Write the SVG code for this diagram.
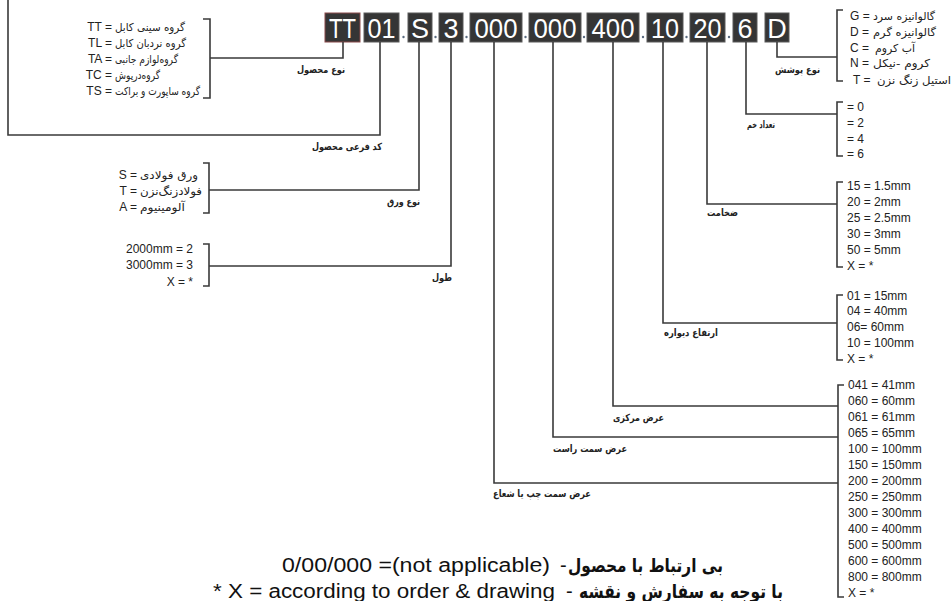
<svg xmlns="http://www.w3.org/2000/svg" width="951" height="601" viewBox="0 0 951 601">
<style>
.box{fill:#353535;stroke:#5a5a5a;stroke-width:1}
.code{font-family:"Liberation Sans",Arial,sans-serif;font-size:27px;fill:#fff;text-anchor:middle}
.dot{fill:#5b6b80}
.ln{fill:none;stroke:#3a3a3a;stroke-width:1.6}
.en{font-family:"Liberation Sans",Arial,sans-serif;font-size:12px;fill:#222}
.fa{font-family:"DejaVu Sans",sans-serif;font-size:11px;fill:#222}
.lbl{font-family:"DejaVu Sans",sans-serif;font-size:10px;font-weight:bold;fill:#222}
.big{font-family:"Liberation Sans",Arial,sans-serif;font-size:20px;fill:#111}
.bigfa{font-family:"DejaVu Sans",sans-serif;font-size:19px;font-weight:bold;fill:#111}
</style>
<rect width="951" height="601" fill="#fff"/>

<g id="code">
<rect class="box" x="325" y="13" width="35" height="29" style="stroke:#8a4a4a"/><text class="code" x="342.5" y="38" textLength="27" lengthAdjust="spacingAndGlyphs">TT</text>
<rect class="box" x="364" y="13" width="35" height="29"/><text class="code" x="381.5" y="38" textLength="28" lengthAdjust="spacingAndGlyphs">01</text>
<rect class="box" x="408" y="13" width="24" height="29"/><text class="code" x="420" y="38">S</text>
<rect class="box" x="439" y="13" width="24" height="29"/><text class="code" x="451" y="38">3</text>
<rect class="box" x="470" y="13" width="52" height="29"/><text class="code" x="496" y="38" textLength="43" lengthAdjust="spacingAndGlyphs">000</text>
<rect class="box" x="529" y="13" width="52" height="29"/><text class="code" x="555" y="38" textLength="43" lengthAdjust="spacingAndGlyphs">000</text>
<rect class="box" x="587" y="13" width="52" height="29"/><text class="code" x="613" y="38" textLength="43" lengthAdjust="spacingAndGlyphs">400</text>
<rect class="box" x="647" y="13" width="36" height="29"/><text class="code" x="665" y="38" textLength="28" lengthAdjust="spacingAndGlyphs">10</text>
<rect class="box" x="690" y="13" width="35" height="29"/><text class="code" x="707.5" y="38" textLength="28" lengthAdjust="spacingAndGlyphs">20</text>
<rect class="box" x="733" y="13" width="24" height="29"/><text class="code" x="745" y="38">6</text>
<rect class="box" x="765" y="13" width="24" height="29"/><text class="code" x="777" y="38">D</text>
<circle class="dot" cx="403.5" cy="37" r="1.2"/>
<circle class="dot" cx="435.5" cy="37" r="1.2"/>
<circle class="dot" cx="466.5" cy="37" r="1.2"/>
<circle class="dot" cx="525.5" cy="37" r="1.2"/>
<circle class="dot" cx="584" cy="37" r="1.2"/>
<circle class="dot" cx="643" cy="37" r="1.2"/>
<circle class="dot" cx="686.5" cy="37" r="1.2"/>
<circle class="dot" cx="729" cy="37" r="1.2"/>
</g>

<g id="connectors">
<path class="ln" d="M343,42 V58 H210"/>
<path class="ln" d="M203,19 H210 V98 H203"/>
<path class="ln" d="M380,42 V135 H8 V0"/>
<path class="ln" d="M419,42 V190 H209"/>
<path class="ln" d="M203,163 H209 V213 H203"/>
<path class="ln" d="M451,42 V266 H209"/>
<path class="ln" d="M203,244 H209 V286 H203"/>
<path class="ln" d="M494,42 V483 H838"/>
<path class="ln" d="M553,42 V437 H838"/>
<path class="ln" d="M613,42 V406 H838"/>
<path class="ln" d="M844,385 H838 V597 H844"/>
<path class="ln" d="M663,42 V323 H837"/>
<path class="ln" d="M843,295 H837 V360 H843"/>
<path class="ln" d="M707,42 V204 H837"/>
<path class="ln" d="M843,182 H837 V267 H843"/>
<path class="ln" d="M746,42 V114 H837"/>
<path class="ln" d="M843,102 H837 V156 H843"/>
<path class="ln" d="M777,42 V57 H837"/>
<path class="ln" d="M843,10 H837 V81 H843"/>
</g>

<g id="product-type">
<text class="en" x="112" y="31" text-anchor="end">TT =</text>
<text class="fa" x="115" y="31" textLength="70" lengthAdjust="spacingAndGlyphs">گروه سینی کابل</text>
<text class="en" x="112" y="47" text-anchor="end">TL =</text>
<text class="fa" x="115" y="47" textLength="71" lengthAdjust="spacingAndGlyphs">گروه نردبان کابل</text>
<text class="en" x="112" y="63" text-anchor="end">TA =</text>
<text class="fa" x="115" y="63" textLength="63" lengthAdjust="spacingAndGlyphs">گروه‌لوازم جانبی</text>
<text class="en" x="112" y="79" text-anchor="end">TC =</text>
<text class="fa" x="115" y="79" textLength="45" lengthAdjust="spacingAndGlyphs">گروه‌درپوش</text>
<text class="en" x="112" y="95" text-anchor="end">TS =</text>
<text class="fa" x="115" y="95" textLength="85" lengthAdjust="spacingAndGlyphs">گروه ساپورت و براکت</text>
<text class="lbl" x="297" y="73" textLength="48" lengthAdjust="spacingAndGlyphs">نوع محصول</text>
</g>

<g id="sub-code">
<text class="lbl" x="312" y="150" textLength="70" lengthAdjust="spacingAndGlyphs">کد فرعی محصول</text>
</g>

<g id="sheet-type">
<text class="en" x="137" y="179" text-anchor="end">S =</text>
<text class="fa" x="140" y="179" textLength="58" lengthAdjust="spacingAndGlyphs">ورق فولادی</text>
<text class="en" x="137" y="195" text-anchor="end">T =</text>
<text class="fa" x="140" y="195" textLength="62" lengthAdjust="spacingAndGlyphs">فولادزنگ‌نزن</text>
<text class="en" x="137" y="211" text-anchor="end">A =</text>
<text class="fa" x="140" y="211" textLength="45" lengthAdjust="spacingAndGlyphs">آلومینیوم</text>
<text class="lbl" x="387" y="205" textLength="33" lengthAdjust="spacingAndGlyphs">نوع ورق</text>
</g>

<g id="length">
<text class="en" x="193" y="253" text-anchor="end">2000mm = 2</text>
<text class="en" x="193" y="269" text-anchor="end">3000mm = 3</text>
<text class="en" x="193" y="286" text-anchor="end">X = *</text>
<text class="lbl" x="432" y="281" textLength="20" lengthAdjust="spacingAndGlyphs">طول</text>
</g>

<g id="widths">
<text class="lbl" x="493" y="497" textLength="98" lengthAdjust="spacingAndGlyphs">عرض سمت چپ یا شعاع</text>
<text class="lbl" x="553" y="452" textLength="74" lengthAdjust="spacingAndGlyphs">عرض سمت راست</text>
<text class="lbl" x="613" y="421" textLength="51" lengthAdjust="spacingAndGlyphs">عرض مرکزی</text>
<text class="en" x="848" y="389">041 = 41mm</text>
<text class="en" x="848" y="405">060 = 60mm</text>
<text class="en" x="848" y="421">061 = 61mm</text>
<text class="en" x="848" y="437">065 = 65mm</text>
<text class="en" x="848" y="453">100 = 100mm</text>
<text class="en" x="848" y="469">150 = 150mm</text>
<text class="en" x="848" y="485">200 = 200mm</text>
<text class="en" x="848" y="501">250 = 250mm</text>
<text class="en" x="848" y="517">300 = 300mm</text>
<text class="en" x="848" y="533">400 = 400mm</text>
<text class="en" x="848" y="549">500 = 500mm</text>
<text class="en" x="848" y="565">600 = 600mm</text>
<text class="en" x="848" y="581">800 = 800mm</text>
<text class="en" x="848" y="597">X = *</text>
</g>

<g id="wall-height">
<text class="lbl" x="664" y="336" textLength="54" lengthAdjust="spacingAndGlyphs">ارتفاع دیواره</text>
<text class="en" x="847" y="300">01 = 15mm</text>
<text class="en" x="847" y="315">04 = 40mm</text>
<text class="en" x="847" y="331">06= 60mm</text>
<text class="en" x="847" y="347">10 = 100mm</text>
<text class="en" x="847" y="363">X = *</text>
</g>

<g id="thickness">
<text class="lbl" x="707" y="216" textLength="31" lengthAdjust="spacingAndGlyphs">ضخامت</text>
<text class="en" x="847" y="190">15 = 1.5mm</text>
<text class="en" x="847" y="206">20 = 2mm</text>
<text class="en" x="847" y="222">25 = 2.5mm</text>
<text class="en" x="847" y="238">30 = 3mm</text>
<text class="en" x="847" y="254">50 = 5mm</text>
<text class="en" x="847" y="270">X = *</text>
</g>

<g id="bends">
<text class="lbl" x="747" y="128" textLength="28" lengthAdjust="spacingAndGlyphs">تعداد خم</text>
<text class="en" x="847" y="111">= 0</text>
<text class="en" x="847" y="127">= 2</text>
<text class="en" x="847" y="143">= 4</text>
<text class="en" x="847" y="158">= 6</text>
</g>

<g id="coating">
<text class="lbl" x="775" y="73" textLength="45" lengthAdjust="spacingAndGlyphs">نوع پوشش</text>
<text class="en" x="850" y="20">G =</text>
<text class="fa" x="873" y="20" textLength="62" lengthAdjust="spacingAndGlyphs">گالوانیزه سرد</text>
<text class="en" x="850" y="36">D =</text>
<text class="fa" x="873" y="36" textLength="63" lengthAdjust="spacingAndGlyphs">گالوانیزه گرم</text>
<text class="en" x="850" y="52">C =</text>
<text class="fa" x="875" y="52" textLength="40" lengthAdjust="spacingAndGlyphs">آب کروم</text>
<text class="en" x="850" y="67">N =</text>
<text class="fa" x="873" y="67" textLength="57" lengthAdjust="spacingAndGlyphs">کروم -نیکل</text>
<text class="en" x="853" y="84">T =</text>
<text class="fa" x="877" y="84" textLength="74" lengthAdjust="spacingAndGlyphs">استیل زنگ نزن</text>
</g>

<g id="notes">
<text class="big" x="282" y="572" textLength="268" lengthAdjust="spacingAndGlyphs">0/00/000 =(not applicable)</text>
<text class="big" x="560" y="572">-</text>
<text class="bigfa" x="568" y="572" textLength="155" lengthAdjust="spacingAndGlyphs">بی ارتباط با محصول</text>
<text class="big" x="213" y="598" textLength="342" lengthAdjust="spacingAndGlyphs">* X = according to order &amp; drawing</text>
<text class="big" x="566" y="598">-</text>
<text class="bigfa" x="579" y="598" textLength="204" lengthAdjust="spacingAndGlyphs">با توجه به سفارش و نقشه</text>
</g>
</svg>
